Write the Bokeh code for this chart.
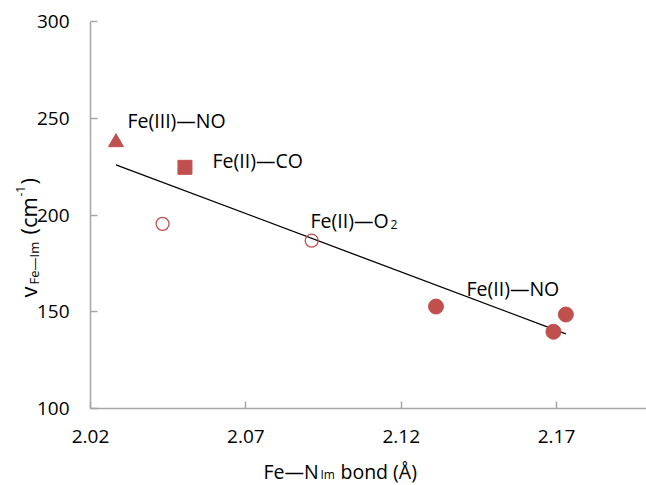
import math
from bokeh.plotting import figure
from bokeh.models import Label, Range1d, FixedTicker, PrintfTickFormatter, LinearAxis
from bokeh.embed import file_html
from bokeh.resources import INLINE

# ---- data ----
fe3_no_x = [2.0282]
fe3_no_y = [237.6]
fe2_co_x = [2.0504]
fe2_co_y = [224.7]
fe2_o2_x = [2.0432, 2.0912]
fe2_o2_y = [195.5, 186.8]
fe2_no_x = [2.1312, 2.1690, 2.1730]
fe2_no_y = [152.8, 139.8, 148.7]
trend_x = [2.0282, 2.1730]
trend_y = [226.0, 138.7]
x_ticks = [2.02, 2.07, 2.12, 2.17]
y_ticks = [100, 150, 200, 250, 300]

RED = "#C0504D"
AXIS = "#a6a6a6"
FONT = "Open Sans"

W, H = 646, 485
# pixel geometry of the axes box
PX_L, PX_T, PX_B = 90.0, 21.0, 408.3
X0, Y0, Y1 = 2.02, 100.0, 300.0
SX = 3107.0                      # px per x unit
SY = (PX_B - PX_T) / (Y1 - Y0)   # px per y unit

xr = Range1d(X0 - PX_L / SX, X0 + (W - PX_L) / SX)
yr = Range1d(Y0 - (H - PX_B) / SY, Y1 + PX_T / SY)

p = figure(width=W, height=H, x_range=xr, y_range=yr,
           x_axis_location=None, y_axis_location=None,
           output_backend="svg", toolbar_location=None,
           min_border_left=0, min_border_right=0, min_border_top=0, min_border_bottom=0)
p.outline_line_color = None
p.grid.visible = False
p.background_fill_color = "white"
p.border_fill_color = "white"

xax = LinearAxis(fixed_location=Y0, bounds=(X0, xr.end))
yax = LinearAxis(fixed_location=X0, bounds=(Y0, Y1))
for ax in (xax, yax):
    ax.axis_line_color = AXIS
    ax.axis_line_width = 1.5
    ax.major_tick_line_color = AXIS
    ax.major_tick_line_width = 1.5
    ax.major_tick_in = 7
    ax.major_tick_out = 0
    ax.minor_tick_line_color = None
    ax.major_label_text_font = FONT
    ax.major_label_text_font_size = "19px"
    ax.major_label_text_color = "#000000"
xax.ticker = FixedTicker(ticks=x_ticks)
yax.ticker = FixedTicker(ticks=y_ticks)
xax.formatter = PrintfTickFormatter(format="%.2f")
yax.formatter = PrintfTickFormatter(format="%d")
xax.major_label_standoff = 21
yax.major_label_standoff = 21
p.add_layout(xax, "below")
p.add_layout(yax, "left")

# trend line
p.line(trend_x, trend_y, line_color="black", line_width=1.3)

# markers
p.scatter(fe3_no_x, fe3_no_y, marker="triangle", size=15, fill_color=RED, line_color=RED)
p.scatter(fe2_co_x, fe2_co_y, marker="square", size=14, fill_color=RED, line_color=RED)
p.scatter(fe2_o2_x, fe2_o2_y, marker="circle", size=13, fill_color=None, line_color=RED, line_width=1.3)
p.scatter(fe2_no_x, fe2_no_y, marker="circle", size=15, fill_color=RED, line_color=RED)

# helpers: pixel position -> data coordinate (for text placement only)
def dx(px):
    return X0 + (px - PX_L) / SX

def dy(py):
    return Y1 - (py - PX_T) / SY

def lab(text, px, py, size, angle=0.0):
    p.add_layout(Label(x=dx(px), y=dy(py), text=text, text_font=FONT,
                       text_font_size=f"{size}px", text_color="#000000",
                       text_align="left", text_baseline="alphabetic", angle=angle))

# data labels
lab("Fe(III)\u2014NO", 127, 120, 19.5)
lab("Fe(II)\u2014CO", 212, 160, 19.5)
lab("Fe(II)\u2014O", 310, 220, 19.5)
lab("2", 390, 224, 12)
lab("Fe(II)\u2014NO", 466, 288, 19.5)

# x axis title: Fe—N_Im bond (Å)
lab("Fe\u2014N", 263, 471, 19.5)
lab("Im", 320, 474, 12)
lab("bond (\u00c5)", 340, 471, 19.5)

# y axis title: v_Fe—Im (cm^-1), rotated
R = math.pi / 2
lab("v", 27, 297, 22, R)
lab("Fe\u2014Im", 33, 284, 13, R)
lab("(cm", 27, 234, 22, R)
lab("-1", 20, 196, 12, R)
lab(")", 27, 184, 22, R)

open("out.html", "w").write(file_html(p, INLINE))
